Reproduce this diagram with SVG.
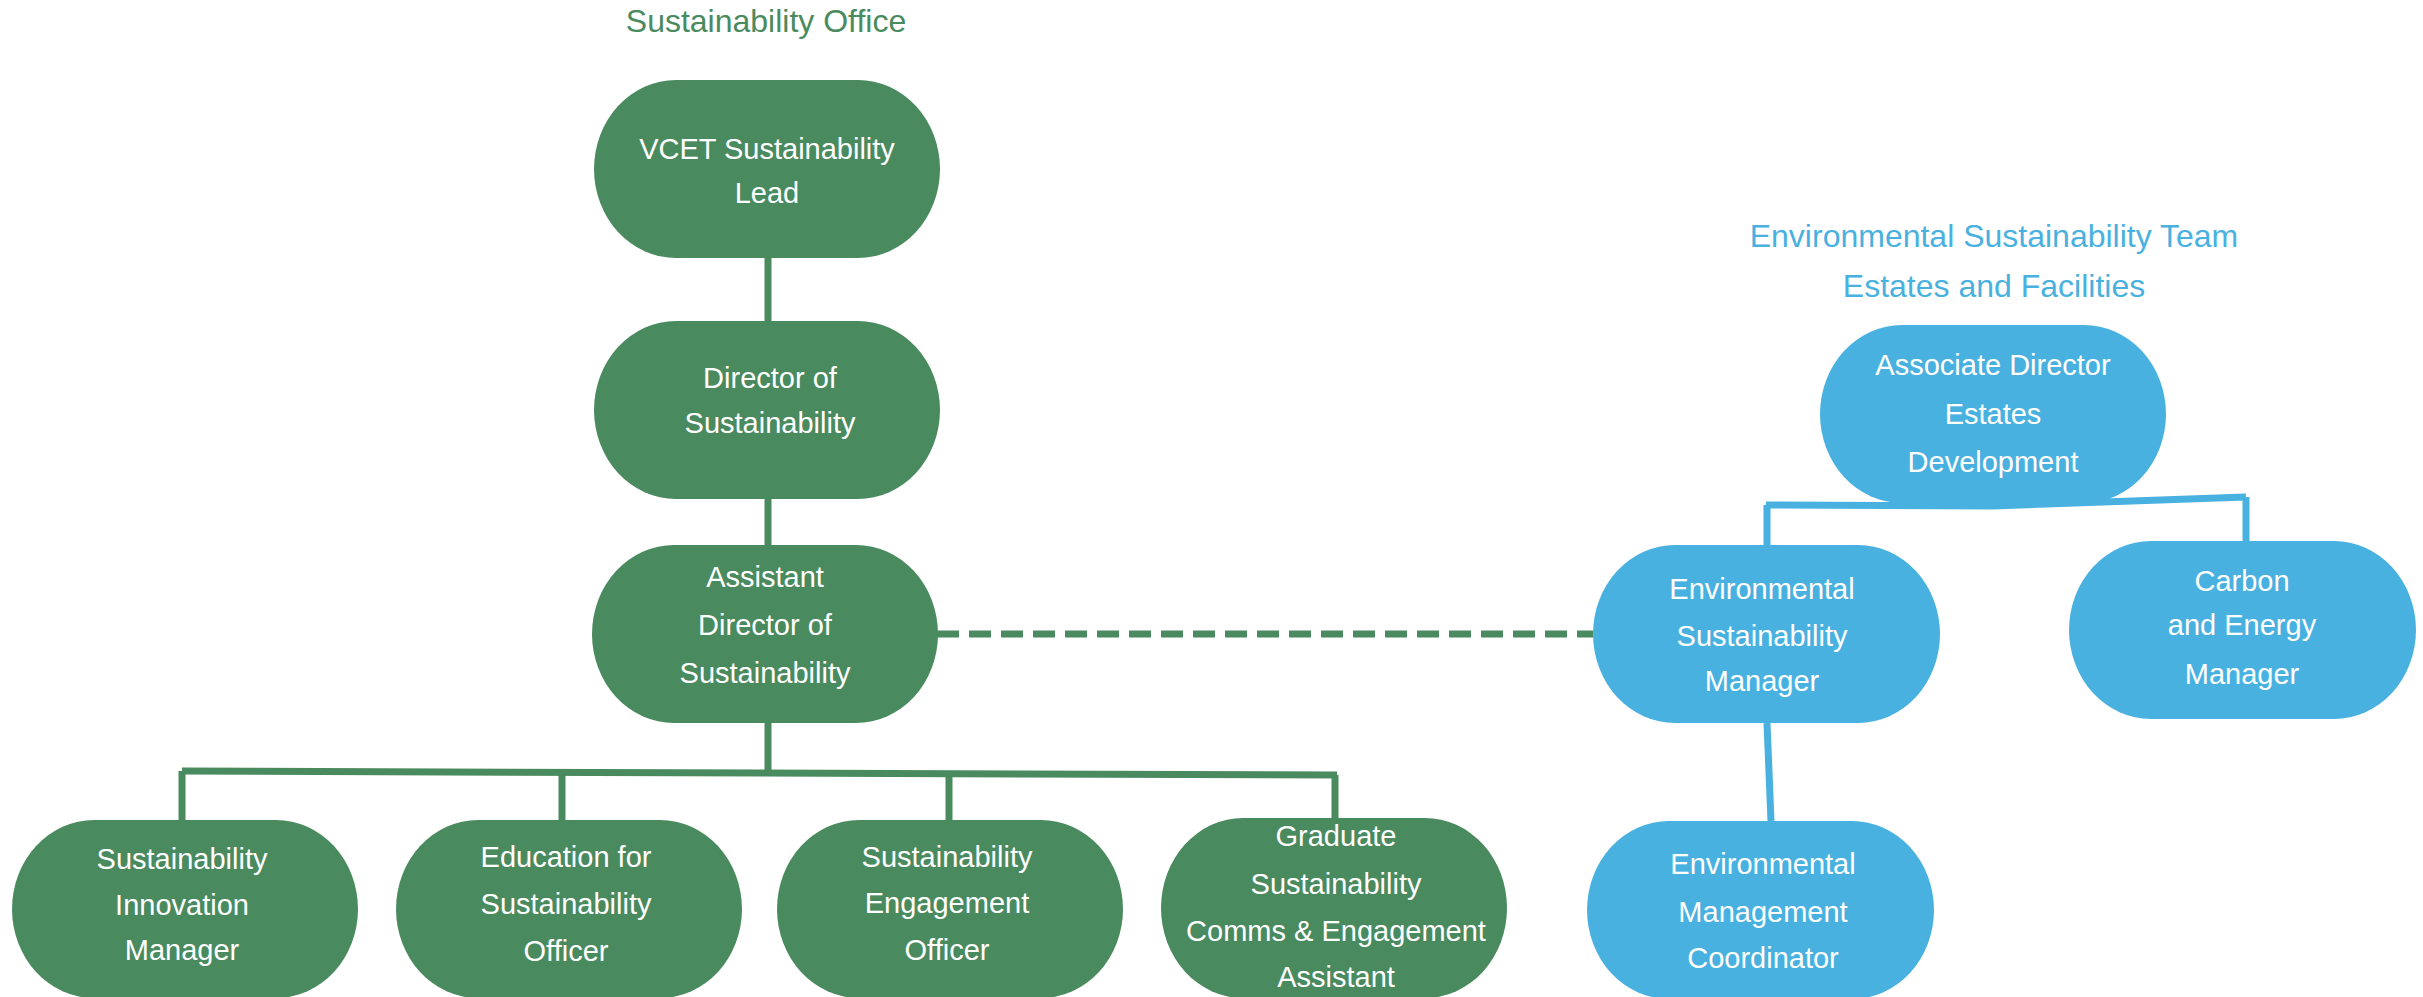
<svg xmlns="http://www.w3.org/2000/svg" width="2423" height="997" viewBox="0 0 2423 997">
<style>
.g{fill:#4a8a5f}
.b{fill:#49b1e0}
.t{font-family:"Liberation Sans",Arial,sans-serif;font-size:29px;fill:#ffffff;text-anchor:middle}
.h{font-family:"Liberation Sans",Arial,sans-serif;font-size:32px;text-anchor:middle}
.cg{stroke:#4a8a5f;stroke-width:7;fill:none}
.cb{stroke:#49b1e0;stroke-width:7;fill:none}
</style>
<rect width="2423" height="997" fill="#ffffff"/>
<text class="h" x="766" y="32" fill="#4a8a5f">Sustainability Office</text>
<text class="h" x="1994" y="247" fill="#49b1e0">Environmental Sustainability Team</text>
<text class="h" x="1994" y="297" fill="#49b1e0">Estates and Facilities</text>
<g id="connectors">
<path class="cg" d="M768 258V321"/>
<path class="cg" d="M768 499V545"/>
<path class="cg" d="M768 723V772"/>
<path class="cg" stroke-width="9" d="M182 771L1337 775"/>
<path class="cg" stroke-width="5" d="M182 771V820M562 772V820M949 773V820M1335 775V818"/>
<path class="cg" stroke-dasharray="22 10" d="M937 634H1593"/>
<path class="cb" d="M1766 505L1993 506L2246 497"/>
<path class="cb" d="M1767 505V547M2246 497V542"/>
<path class="cb" d="M1767 723L1771 821"/>
</g>
<g id="n-vcet"><rect class="g" x="594" y="80" width="346" height="178" rx="82" ry="89"/>
<text class="t" x="767" y="159">VCET Sustainability</text><text class="t" x="767" y="203">Lead</text></g>
<g id="n-director"><rect class="g" x="594" y="321" width="346" height="178" rx="82" ry="89"/>
<text class="t" x="770" y="388">Director of</text><text class="t" x="770" y="433">Sustainability</text></g>
<g id="n-assistant"><rect class="g" x="592" y="545" width="346" height="178" rx="82" ry="89"/>
<text class="t" x="765" y="587">Assistant</text><text class="t" x="765" y="635">Director of</text><text class="t" x="765" y="683">Sustainability</text></g>
<g id="n-innovation"><rect class="g" x="12" y="820" width="346" height="178" rx="82" ry="89"/>
<text class="t" x="182" y="869">Sustainability</text><text class="t" x="182" y="915">Innovation</text><text class="t" x="182" y="960">Manager</text></g>
<g id="n-education"><rect class="g" x="396" y="820" width="346" height="178" rx="82" ry="89"/>
<text class="t" x="566" y="867">Education for</text><text class="t" x="566" y="914">Sustainability</text><text class="t" x="566" y="961">Officer</text></g>
<g id="n-engagement"><rect class="g" x="777" y="820" width="346" height="178" rx="82" ry="89"/>
<text class="t" x="947" y="867">Sustainability</text><text class="t" x="947" y="913">Engagement</text><text class="t" x="947" y="960">Officer</text></g>
<g id="n-graduate"><rect class="g" x="1161" y="818" width="346" height="180" rx="82" ry="90"/>
<text class="t" x="1336" y="846">Graduate</text><text class="t" x="1336" y="894">Sustainability</text><text class="t" x="1336" y="941">Comms &amp; Engagement</text><text class="t" x="1336" y="987">Assistant</text></g>
<g id="n-associate"><rect class="b" x="1820" y="325" width="346" height="178" rx="82" ry="89"/>
<text class="t" x="1993" y="375">Associate Director</text><text class="t" x="1993" y="424">Estates</text><text class="t" x="1993" y="472">Development</text></g>
<g id="n-esm"><rect class="b" x="1593" y="545" width="347" height="178" rx="82" ry="89"/>
<text class="t" x="1762" y="599">Environmental</text><text class="t" x="1762" y="646">Sustainability</text><text class="t" x="1762" y="691">Manager</text></g>
<g id="n-carbon"><rect class="b" x="2069" y="541" width="347" height="178" rx="82" ry="89"/>
<text class="t" x="2242" y="591">Carbon</text><text class="t" x="2242" y="635">and Energy</text><text class="t" x="2242" y="684">Manager</text></g>
<g id="n-emc"><rect class="b" x="1587" y="821" width="347" height="178" rx="82" ry="89"/>
<text class="t" x="1763" y="874">Environmental</text><text class="t" x="1763" y="922">Management</text><text class="t" x="1763" y="968">Coordinator</text></g>
</svg>
